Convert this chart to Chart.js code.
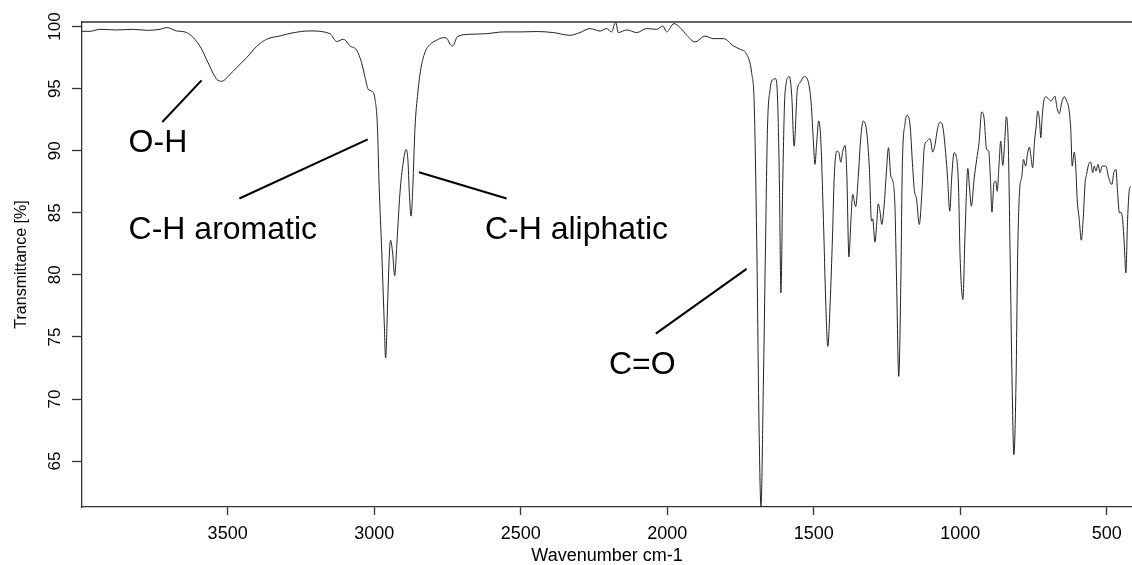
<!DOCTYPE html>
<html>
<head>
<meta charset="utf-8">
<script src="https://cdn.jsdelivr.net/npm/chart.js@4"></script>
<style>
  html, body { margin: 0; padding: 0; background: #fff; }
  #wrap { width: 1132px; height: 565px; }
</style>
</head>
<body>
<div id="wrap"><canvas id="c" width="1132" height="565"></canvas></div>
<script>
// ---- data ----
const wavenumbers = [
  3997, 3970, 3936, 3879, 3822, 3776, 3731, 3708, 3674, 3640,
  3594, 3567, 3537, 3520, 3492, 3469, 3435, 3401, 3367, 3321,
  3277, 3219, 3151, 3128, 3105, 3082, 3060, 3043, 3031, 3020,
  3008, 2997, 2989, 2983, 2974, 2966, 2961, 2954, 2948, 2944,
  2937, 2930, 2923, 2912, 2901, 2891, 2885, 2880, 2874, 2868,
  2861, 2851, 2841, 2827, 2809, 2787, 2764, 2752, 2741, 2732,
  2716, 2673, 2616, 2559, 2502, 2445, 2389, 2332, 2298, 2263,
  2229, 2207, 2190, 2176, 2167, 2138, 2104, 2070, 2036, 2015,
  2002, 1977, 1956, 1933, 1905, 1871, 1843, 1808, 1774, 1751,
  1729, 1712, 1703, 1694, 1687, 1680, 1672, 1665, 1658, 1649,
  1638, 1630, 1623, 1617, 1612, 1606, 1598, 1583, 1575, 1567,
  1556, 1547, 1532, 1518, 1509, 1501, 1496, 1490, 1483, 1476,
  1467, 1459, 1452, 1444, 1436, 1430, 1421, 1414, 1408, 1401,
  1393, 1387, 1380, 1373, 1367, 1357, 1348, 1340, 1331, 1319,
  1310, 1303, 1299, 1291, 1285, 1280, 1274, 1268, 1260, 1253,
  1245, 1237, 1230, 1223, 1217, 1210, 1203, 1198, 1188, 1181,
  1171, 1164, 1157, 1149, 1140, 1131, 1123, 1114, 1103, 1094,
  1086, 1078, 1069, 1060, 1050, 1043, 1036, 1029, 1021, 1014,
  1006, 1001, 991, 984, 974, 969, 962, 953, 944, 936,
  927, 919, 910, 903, 897, 892, 885, 879, 874, 868,
  862, 855, 848, 843, 836, 830, 823, 817, 810, 804,
  798, 790, 784, 777, 770, 764, 759, 753, 747, 741,
  736, 730, 725, 721, 715, 707, 698, 690, 684, 677,
  670, 662, 654, 645, 637, 629, 623, 618, 611, 606,
  601, 594, 587, 580, 574, 569, 562, 555, 548, 543,
  537, 530, 523, 516, 510, 503, 495, 483, 476, 469,
  463, 457, 452, 446, 440, 435, 429, 423, 418
];
const transmittance = [
  99.62, 99.62, 99.78, 99.73, 99.78, 99.70, 99.78, 99.92, 99.65, 99.52,
  98.40, 97.10, 95.75, 95.60, 96.15, 96.70, 97.50, 98.40, 98.98, 99.25,
  99.50, 99.65, 99.43, 98.80, 98.98, 98.44, 98.11, 97.10, 95.89, 94.94,
  94.80, 94.14, 91.98, 87.15, 81.77, 76.40, 73.30, 77.74, 81.77, 82.79,
  81.77, 79.94, 82.30, 86.61, 89.03, 90.10, 89.30, 86.61, 84.73, 87.15,
  91.72, 94.68, 96.56, 97.90, 98.57, 98.90, 99.11, 99.05, 98.57, 98.44,
  99.19, 99.38, 99.43, 99.57, 99.57, 99.60, 99.52, 99.30, 99.52, 99.84,
  99.64, 99.84, 99.57, 100.37, 99.52, 99.73, 99.52, 99.84, 99.78, 100.05,
  99.57, 100.24, 99.92, 99.30, 98.76, 99.24, 99.03, 99.03, 98.44, 98.17,
  97.77, 96.29, 93.60, 81.77, 68.33, 61.34, 71.02, 81.77, 91.72, 94.94,
  95.75, 95.80, 93.87, 87.15, 78.55, 87.15, 94.68, 95.97, 94.40, 90.37,
  94.94, 95.48, 95.97, 95.48, 93.87, 90.64, 88.90, 90.64, 92.39, 90.91,
  84.46, 77.74, 74.24, 77.74, 83.11, 87.95, 89.97, 89.84, 89.08, 89.97,
  90.43, 87.95, 81.45, 84.46, 86.48, 85.49, 87.95, 90.91, 92.39, 91.45,
  88.49, 84.33, 84.52, 82.63, 84.19, 85.72, 85.13, 84.06, 85.53, 87.95,
  90.24, 87.95, 87.55, 85.53, 79.08, 71.82, 79.08, 88.49, 92.26, 92.85,
  91.98, 89.30, 86.88, 86.07, 84.06, 86.61, 90.24, 90.77, 90.97, 89.89,
  90.51, 91.72, 92.30, 91.98, 89.84, 87.69, 85.13, 87.95, 89.84, 89.57,
  87.15, 81.77, 78.01, 83.11, 88.57, 87.15, 85.53, 87.69, 89.30, 90.64,
  93.12, 92.66, 90.10, 89.97, 87.69, 85.05, 87.42, 87.55, 86.74, 88.76,
  90.77, 88.81, 90.91, 92.74, 90.37, 81.77, 71.02, 65.51, 71.02, 81.77,
  86.61, 87.95, 89.30, 88.76, 89.84, 90.29, 89.57, 88.63, 90.64, 91.98,
  93.20, 92.53, 91.05, 92.53, 94.00, 94.35, 94.14, 94.00, 94.19, 94.40,
  93.47, 92.98, 93.87, 94.35, 94.00, 93.33, 91.72, 88.76, 89.89, 88.76,
  86.07, 84.46, 82.79, 84.73, 87.42, 88.09, 88.90, 89.08, 88.23, 88.76,
  88.36, 88.90, 88.23, 88.76, 88.76, 88.76, 87.95, 87.28, 88.23, 88.49,
  86.61, 84.99, 85.05, 84.46, 82.30, 80.16, 84.46, 86.88, 87.15
];
const xTickValues = [500, 1000, 1500, 2000, 2500, 3000, 3500];
const yTickValues = [65, 70, 75, 80, 85, 90, 95, 100];
const xTitle = 'Wavenumber cm-1';
const yTitle = 'Transmittance [%]';

// annotation texts (anchored in data coordinates)
const annotationTexts = ['O-H', 'C-H aromatic', 'C-H aliphatic', 'C=O'];
const annotationWn = [3838, 3838, 2622, 2199];
const annotationT  = [89.9, 82.89, 82.89, 72.04];
// leader lines: from (wn1,T1) to (wn2,T2)
const leaderWn1 = [3723, 3460, 2847, 2039];
const leaderT1  = [92.31, 86.15, 88.27, 75.27];
const leaderWn2 = [3589, 3022, 2548, 1729];
const leaderT2  = [95.67, 90.91, 86.15, 80.48];

const FONT = '"Liberation Sans", Arial, Helvetica, sans-serif';

const points = wavenumbers.map((w, i) => ({ x: w, y: transmittance[i] }));

const annotatePlugin = {
  id: 'annotate',
  afterDatasetsDraw(chart) {
    const { ctx, chartArea, scales: { x, y } } = chart;
    ctx.save();
    // top border of the plot box
    ctx.strokeStyle = '#333';
    ctx.lineWidth = 1.3;
    ctx.beginPath();
    ctx.moveTo(chartArea.left, chartArea.top);
    ctx.lineTo(chartArea.right, chartArea.top);
    ctx.stroke();
    // leader lines
    ctx.strokeStyle = '#000';
    ctx.lineWidth = 2;
    for (let i = 0; i < leaderWn1.length; i++) {
      ctx.beginPath();
      ctx.moveTo(x.getPixelForValue(leaderWn1[i]), y.getPixelForValue(leaderT1[i]));
      ctx.lineTo(x.getPixelForValue(leaderWn2[i]), y.getPixelForValue(leaderT2[i]));
      ctx.stroke();
    }
    // labels
    ctx.fillStyle = '#000';
    ctx.font = '32px ' + FONT;
    ctx.textAlign = 'left';
    ctx.textBaseline = 'alphabetic';
    for (let i = 0; i < annotationTexts.length; i++) {
      ctx.fillText(annotationTexts[i], x.getPixelForValue(annotationWn[i]), y.getPixelForValue(annotationT[i]));
    }
    ctx.restore();
  }
};

new Chart(document.getElementById('c'), {
  type: 'line',
  data: {
    datasets: [{
      data: points,
      borderColor: '#222',
      borderWidth: 1,
      pointRadius: 0,
      fill: false,
      cubicInterpolationMode: 'monotone'
    }]
  },
  options: {
    responsive: false,
    devicePixelRatio: 1,
    animation: false,
    parsing: true,
    layout: { padding: { top: 22, right: 0, bottom: 0, left: 0 } },
    plugins: { legend: { display: false }, tooltip: { enabled: false } },
    scales: {
      x: {
        type: 'linear',
        reverse: true,
        min: 414,
        max: 3997,
        afterFit: s => { s.height = 58; },
        afterBuildTicks: s => { s.ticks = xTickValues.map(v => ({ value: v })); },
        border: { display: true, color: '#333', width: 1.3 },
        grid: { drawOnChartArea: false, drawTicks: true, tickLength: 8, tickColor: '#333', tickWidth: 1.3 },
        ticks: {
          color: '#000', padding: 8, maxRotation: 0, autoSkip: false,
          font: { family: FONT, size: 18 },
          callback: v => String(v)
        },
        title: {
          display: true, text: xTitle, color: '#000',
          font: { family: FONT, size: 18, lineHeight: 1 },
          padding: { top: 0, bottom: 0 }
        }
      },
      y: {
        type: 'linear',
        min: 61.3,
        max: 100.37,
        afterFit: s => { s.width = 82; },
        afterBuildTicks: s => { s.ticks = yTickValues.map(v => ({ value: v })); },
        border: { display: true, color: '#333', width: 1.3 },
        grid: { drawOnChartArea: false, drawTicks: true, tickLength: 10, tickColor: '#333', tickWidth: 1.3 },
        ticks: {
          color: '#000', padding: 3, minRotation: 90, maxRotation: 90, crossAlign: 'center', autoSkip: false,
          font: { family: FONT, size: 17 },
          callback: v => String(v)
        },
        title: {
          display: true, text: yTitle, color: '#000',
          font: { family: FONT, size: 16 },
          padding: { top: 12, bottom: 0 }
        }
      }
    }
  },
  plugins: [annotatePlugin]
});
</script>
</body>
</html>
